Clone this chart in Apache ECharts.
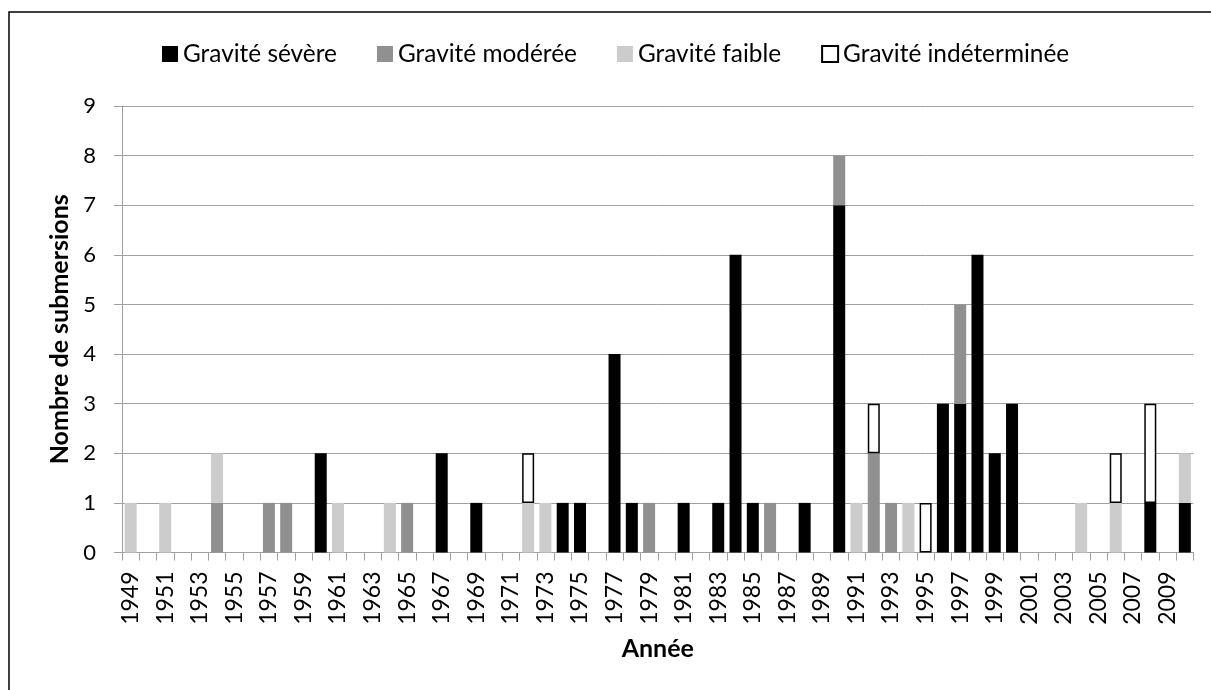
<!DOCTYPE html>
<html>
<head>
<meta charset="utf-8">
<script src="https://cdn.jsdelivr.net/npm/echarts@6/dist/echarts.min.js"></script>
<style>
  html, body { margin: 0; padding: 0; background: #fff; }
  #chart { width: 1211px; height: 690px; }
</style>
</head>
<body>
<div id="chart"></div>
<script>
// years on the category axis
var years = [
  "1949", "1950", "1951", "1952", "1953", "1954", "1955", "1956", "1957", "1958",
  "1959", "1960", "1961", "1962", "1963", "1964", "1965", "1966", "1967", "1968",
  "1969", "1970", "1971", "1972", "1973", "1974", "1975", "1976", "1977", "1978",
  "1979", "1980", "1981", "1982", "1983", "1984", "1985", "1986", "1987", "1988",
  "1989", "1990", "1991", "1992", "1993", "1994", "1995", "1996", "1997", "1998",
  "1999", "2000", "2001", "2002", "2003", "2004", "2005", "2006", "2007", "2008",
  "2009", "2010"
];

// year / count pairs per severity
var severeYears = [1960, 1967, 1969, 1974, 1975, 1977, 1978, 1981, 1983, 1984, 1985, 1988, 1990, 1996, 1997, 1998, 1999, 2000, 2008, 2010];
var severeCounts = [2, 2, 1, 1, 1, 4, 1, 1, 1, 6, 1, 1, 7, 3, 3, 6, 2, 3, 1, 1];

var moderateYears = [1954, 1957, 1958, 1965, 1979, 1986, 1990, 1992, 1993, 1997];
var moderateCounts = [1, 1, 1, 1, 1, 1, 1, 2, 1, 2];

var lowYears = [1949, 1951, 1954, 1961, 1964, 1972, 1973, 1991, 1994, 2004, 2006, 2010];
var lowCounts = [1, 1, 1, 1, 1, 1, 1, 1, 1, 1, 1, 1];

var unknownYears = [1972, 1992, 1995, 2006, 2008];
var unknownCounts = [1, 1, 1, 1, 2];

var yTicks = [0, 1, 2, 3, 4, 5, 6, 7, 8, 9];

function toSeries(ys, counts) {
  return years.map(function (y) {
    var i = ys.indexOf(+y);
    return i < 0 ? null : counts[i];
  });
}

var font = "Lato";
var chart = echarts.init(document.getElementById("chart"));

var option = {
  backgroundColor: "#fff",
  animation: false,
  graphic: [
    {
      type: "rect",
      shape: { x: 9, y: 12, width: 1400, height: 900 },
      style: { fill: null, stroke: "#000", lineWidth: 1.5 },
      silent: true,
      z: 100
    }
  ],
  legend: {
    left: 157,
    top: 37,
    itemWidth: 16,
    itemHeight: 16,
    itemGap: 40,
    selectedMode: false,
    textStyle: { fontFamily: font, fontSize: 24.4, color: "#000" },
    data: [
      { name: "Gravité sévère", icon: "rect" },
      { name: "Gravité modérée", icon: "rect" },
      { name: "Gravité faible", icon: "rect" },
      { name: "Gravité indéterminée", icon: "rect" }
    ]
  },
  grid: {
    left: 122,
    right: 17.5,
    top: 106,
    bottom: 137.5,
    outerBoundsMode: "none"
  },
  xAxis: {
    type: "category",
    data: years,
    name: "Année",
    nameLocation: "middle",
    nameGap: 84,
    nameTextStyle: { fontFamily: font, fontSize: 25, fontWeight: "bold", color: "#000" },
    axisLine: { lineStyle: { color: "#a0a0a0", width: 1 } },
    axisTick: { show: true, interval: 0, length: 8, lineStyle: { color: "#a0a0a0" } },
    axisLabel: {
      interval: 1,
      rotate: 90,
      margin: 19,
      fontFamily: font,
      fontSize: 23,
      color: "#000"
    }
  },
  yAxis: {
    type: "value",
    min: yTicks[0],
    max: yTicks[yTicks.length - 1],
    interval: 1,
    name: "Nombre de submersions",
    nameLocation: "middle",
    nameGap: 47,
    nameTextStyle: { fontFamily: font, fontSize: 25, fontWeight: "bold", color: "#000" },
    axisLine: { show: true, lineStyle: { color: "#a0a0a0", width: 1 } },
    axisTick: { show: true, length: 8, lineStyle: { color: "#a0a0a0" } },
    splitLine: { lineStyle: { color: "#a0a0a0", width: 1 } },
    axisLabel: { margin: 26, fontFamily: font, fontSize: 22, color: "#000" }
  },
  series: [
    {
      name: "Gravité sévère",
      type: "bar",
      stack: "total",
      barWidth: 12,
      itemStyle: { color: "#000000" },
      data: toSeries(severeYears, severeCounts)
    },
    {
      name: "Gravité modérée",
      type: "bar",
      stack: "total",
      barWidth: 12,
      itemStyle: { color: "#909090" },
      data: toSeries(moderateYears, moderateCounts)
    },
    {
      name: "Gravité faible",
      type: "bar",
      stack: "total",
      barWidth: 12,
      itemStyle: { color: "#cccccc" },
      data: toSeries(lowYears, lowCounts)
    },
    {
      name: "Gravité indéterminée",
      type: "bar",
      stack: "total",
      barWidth: 12,
      itemStyle: { color: "#ffffff", borderColor: "#000000", borderWidth: 1.5 },
      data: toSeries(unknownYears, unknownCounts)
    }
  ]
};

chart.setOption(option);
</script>
</body>
</html>
